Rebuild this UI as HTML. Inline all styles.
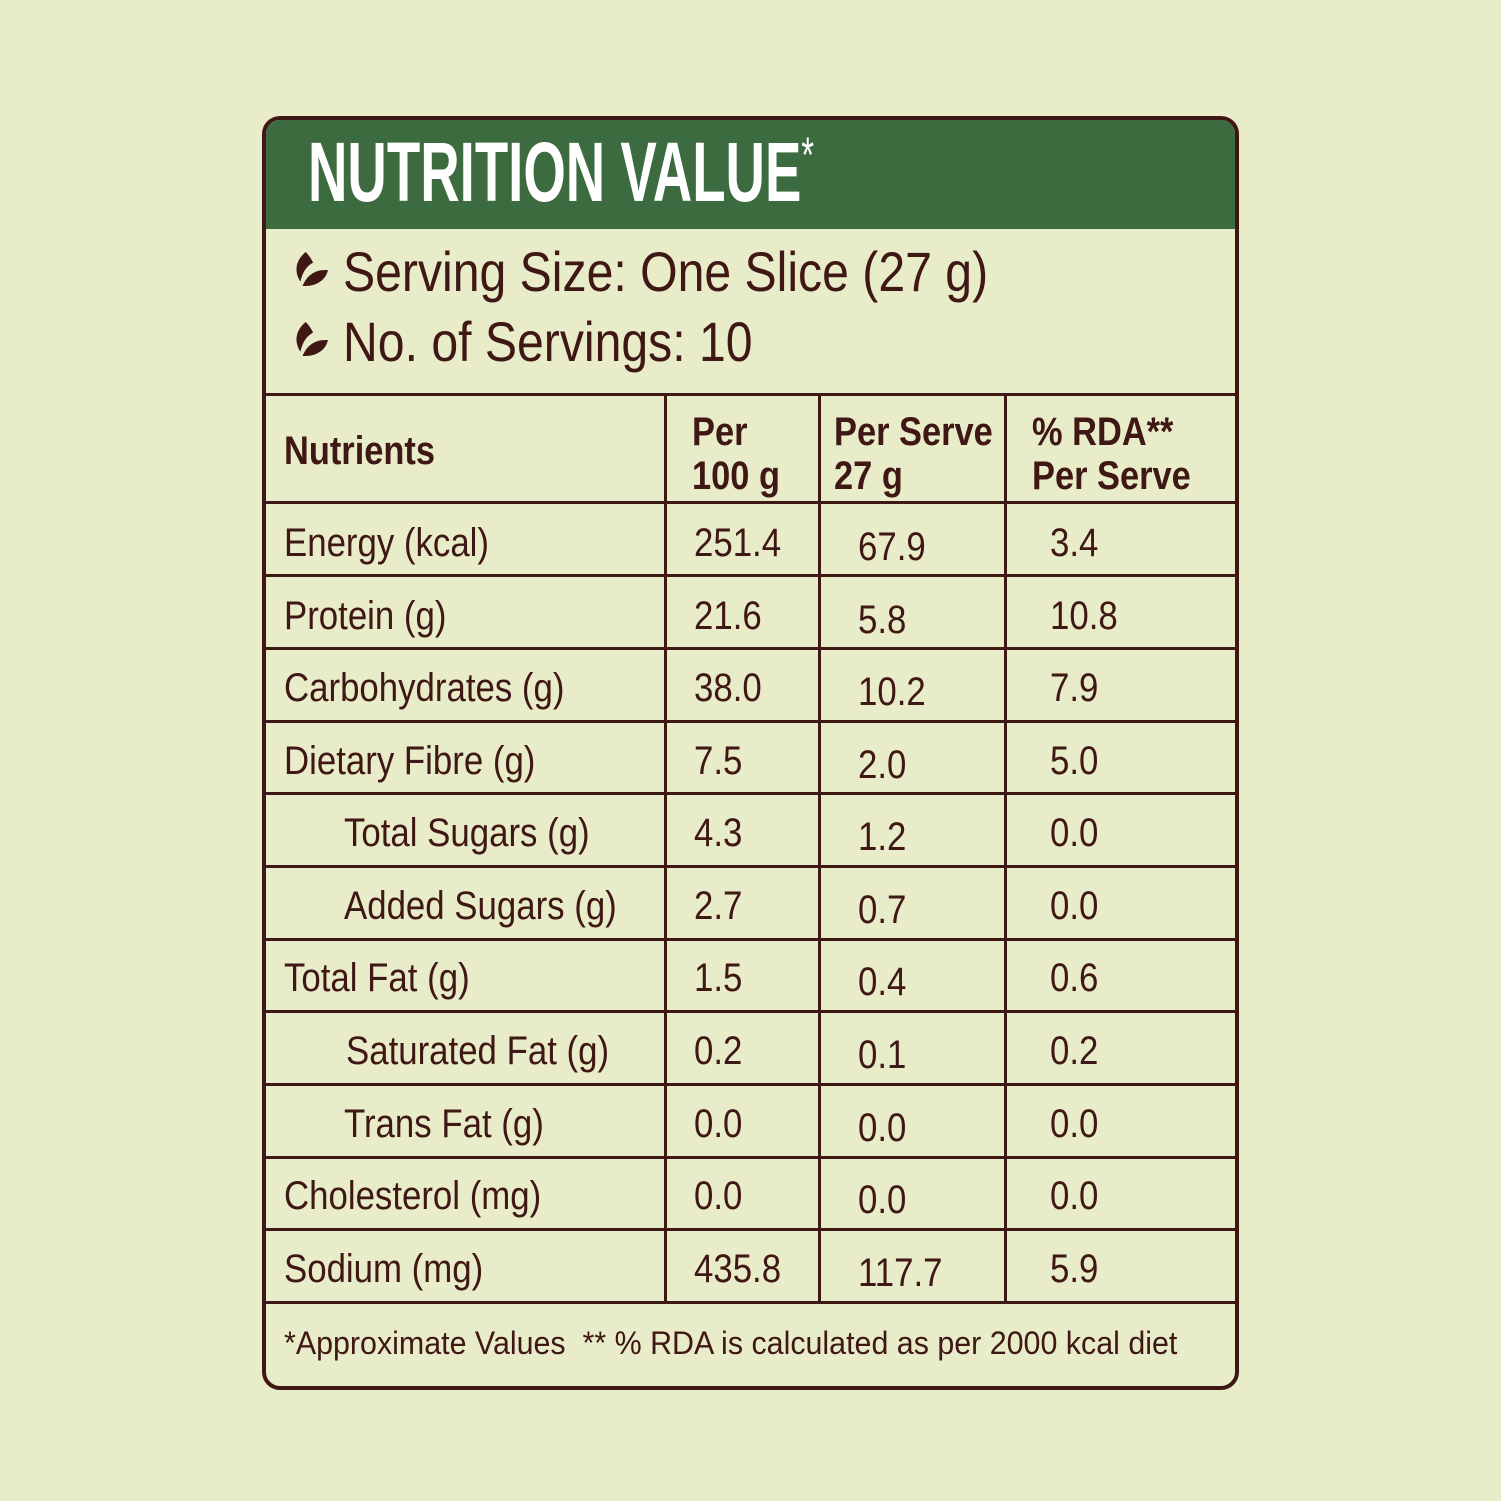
<!DOCTYPE html>
<html><head><style>
body{margin:0;width:1501px;height:1501px;background:#e8ecc9;position:relative;overflow:hidden;font-family:"Liberation Sans",sans-serif;color:#3f1714}
.box{position:absolute;left:262px;top:116px;width:969px;height:1266px;border:4px solid #3f1714;border-radius:18px;overflow:hidden}
.green{position:absolute;left:0;top:0;width:100%;height:109px;background:#3d6b40}
.t{position:absolute;white-space:nowrap;transform:scaleX(0.87);transform-origin:0 0;line-height:1;font-size:40px}
.h{position:absolute;background:#3f1714}
.leaf{position:absolute;width:36px;height:36px}
</style></head><body>
<div class="box">
<div class="green"></div>
</div>
<div class="t" style="left:308px;top:130px;font-size:84px;color:#fff;font-weight:bold;transform:scaleX(0.65)">NUTRITION VALUE<span style="font-size:50px;vertical-align:top;font-weight:normal">*</span></div>
<svg class="leaf" style="left:293px;top:251px" viewBox="0 0 34 34"><path d="M12 1 C2 9 1 20 7 29 C9 20 13 14 19 11 C17 7 15 4 12 1Z" fill="#3f1714"/><path d="M9 33 C13 23 21 17 33 18 C31 28 21 34 9 33Z" fill="#3f1714"/></svg>
<svg class="leaf" style="left:293px;top:321px" viewBox="0 0 34 34"><path d="M12 1 C2 9 1 20 7 29 C9 20 13 14 19 11 C17 7 15 4 12 1Z" fill="#3f1714"/><path d="M9 33 C13 23 21 17 33 18 C31 28 21 34 9 33Z" fill="#3f1714"/></svg>
<div class="t" style="left:343px;top:244px;font-size:56px;transform:scaleX(0.86)">Serving Size: One Slice (27 g)</div>
<div class="t" style="left:343px;top:314px;font-size:56px;transform:scaleX(0.86)">No. of Servings: 10</div>
<div class="h" style="left:264px;top:393px;width:971px;height:3px"></div>
<div class="h" style="left:264px;top:501px;width:971px;height:3px"></div>
<div class="h" style="left:264px;top:574px;width:971px;height:3px"></div>
<div class="h" style="left:264px;top:647px;width:971px;height:3px"></div>
<div class="h" style="left:264px;top:720px;width:971px;height:3px"></div>
<div class="h" style="left:264px;top:792px;width:971px;height:3px"></div>
<div class="h" style="left:264px;top:865px;width:971px;height:3px"></div>
<div class="h" style="left:264px;top:938px;width:971px;height:3px"></div>
<div class="h" style="left:264px;top:1010px;width:971px;height:3px"></div>
<div class="h" style="left:264px;top:1083px;width:971px;height:3px"></div>
<div class="h" style="left:264px;top:1156px;width:971px;height:3px"></div>
<div class="h" style="left:264px;top:1228px;width:971px;height:3px"></div>
<div class="h" style="left:264px;top:1301px;width:971px;height:3px"></div>
<div class="h" style="left:664px;top:395px;width:3px;height:908px"></div>
<div class="h" style="left:818px;top:395px;width:3px;height:908px"></div>
<div class="h" style="left:1004px;top:395px;width:3px;height:908px"></div>
<div class="t" style="left:284px;top:431px;font-weight:bold;transform:scaleX(0.86)">Nutrients</div>
<div class="t" style="left:692px;top:410px;font-weight:bold;line-height:44px;transform:scaleX(0.86)">Per<br>100 g</div>
<div class="t" style="left:834px;top:410px;font-weight:bold;line-height:44px;transform:scaleX(0.86)">Per Serve<br>27 g</div>
<div class="t" style="left:1032px;top:410px;font-weight:bold;line-height:44px;transform:scaleX(0.86)">% RDA**<br>Per Serve</div>
<div class="t" style="left:284px;top:523px">Energy (kcal)</div><div class="t" style="left:694px;top:523px">251.4</div><div class="t" style="left:858px;top:527px">67.9</div><div class="t" style="left:1050px;top:523px">3.4</div>
<div class="t" style="left:284px;top:596px">Protein (g)</div><div class="t" style="left:694px;top:596px">21.6</div><div class="t" style="left:858px;top:600px">5.8</div><div class="t" style="left:1050px;top:596px">10.8</div>
<div class="t" style="left:284px;top:668px">Carbohydrates (g)</div><div class="t" style="left:694px;top:668px">38.0</div><div class="t" style="left:858px;top:672px">10.2</div><div class="t" style="left:1050px;top:668px">7.9</div>
<div class="t" style="left:284px;top:741px">Dietary Fibre (g)</div><div class="t" style="left:694px;top:741px">7.5</div><div class="t" style="left:858px;top:745px">2.0</div><div class="t" style="left:1050px;top:741px">5.0</div>
<div class="t" style="left:344px;top:813px">Total Sugars (g)</div><div class="t" style="left:694px;top:813px">4.3</div><div class="t" style="left:858px;top:817px">1.2</div><div class="t" style="left:1050px;top:813px">0.0</div>
<div class="t" style="left:344px;top:886px">Added Sugars (g)</div><div class="t" style="left:694px;top:886px">2.7</div><div class="t" style="left:858px;top:890px">0.7</div><div class="t" style="left:1050px;top:886px">0.0</div>
<div class="t" style="left:284px;top:958px">Total Fat (g)</div><div class="t" style="left:694px;top:958px">1.5</div><div class="t" style="left:858px;top:962px">0.4</div><div class="t" style="left:1050px;top:958px">0.6</div>
<div class="t" style="left:346px;top:1031px">Saturated Fat (g)</div><div class="t" style="left:694px;top:1031px">0.2</div><div class="t" style="left:858px;top:1035px">0.1</div><div class="t" style="left:1050px;top:1031px">0.2</div>
<div class="t" style="left:344px;top:1104px">Trans Fat (g)</div><div class="t" style="left:694px;top:1104px">0.0</div><div class="t" style="left:858px;top:1108px">0.0</div><div class="t" style="left:1050px;top:1104px">0.0</div>
<div class="t" style="left:284px;top:1176px">Cholesterol (mg)</div><div class="t" style="left:694px;top:1176px">0.0</div><div class="t" style="left:858px;top:1180px">0.0</div><div class="t" style="left:1050px;top:1176px">0.0</div>
<div class="t" style="left:284px;top:1249px">Sodium (mg)</div><div class="t" style="left:694px;top:1249px">435.8</div><div class="t" style="left:858px;top:1253px">117.7</div><div class="t" style="left:1050px;top:1249px">5.9</div>
<div class="t" style="left:284px;top:1327px;font-size:32px;transform:scaleX(0.95)">*Approximate Values&nbsp; ** % RDA is calculated as per 2000 kcal diet</div>
</body></html>
